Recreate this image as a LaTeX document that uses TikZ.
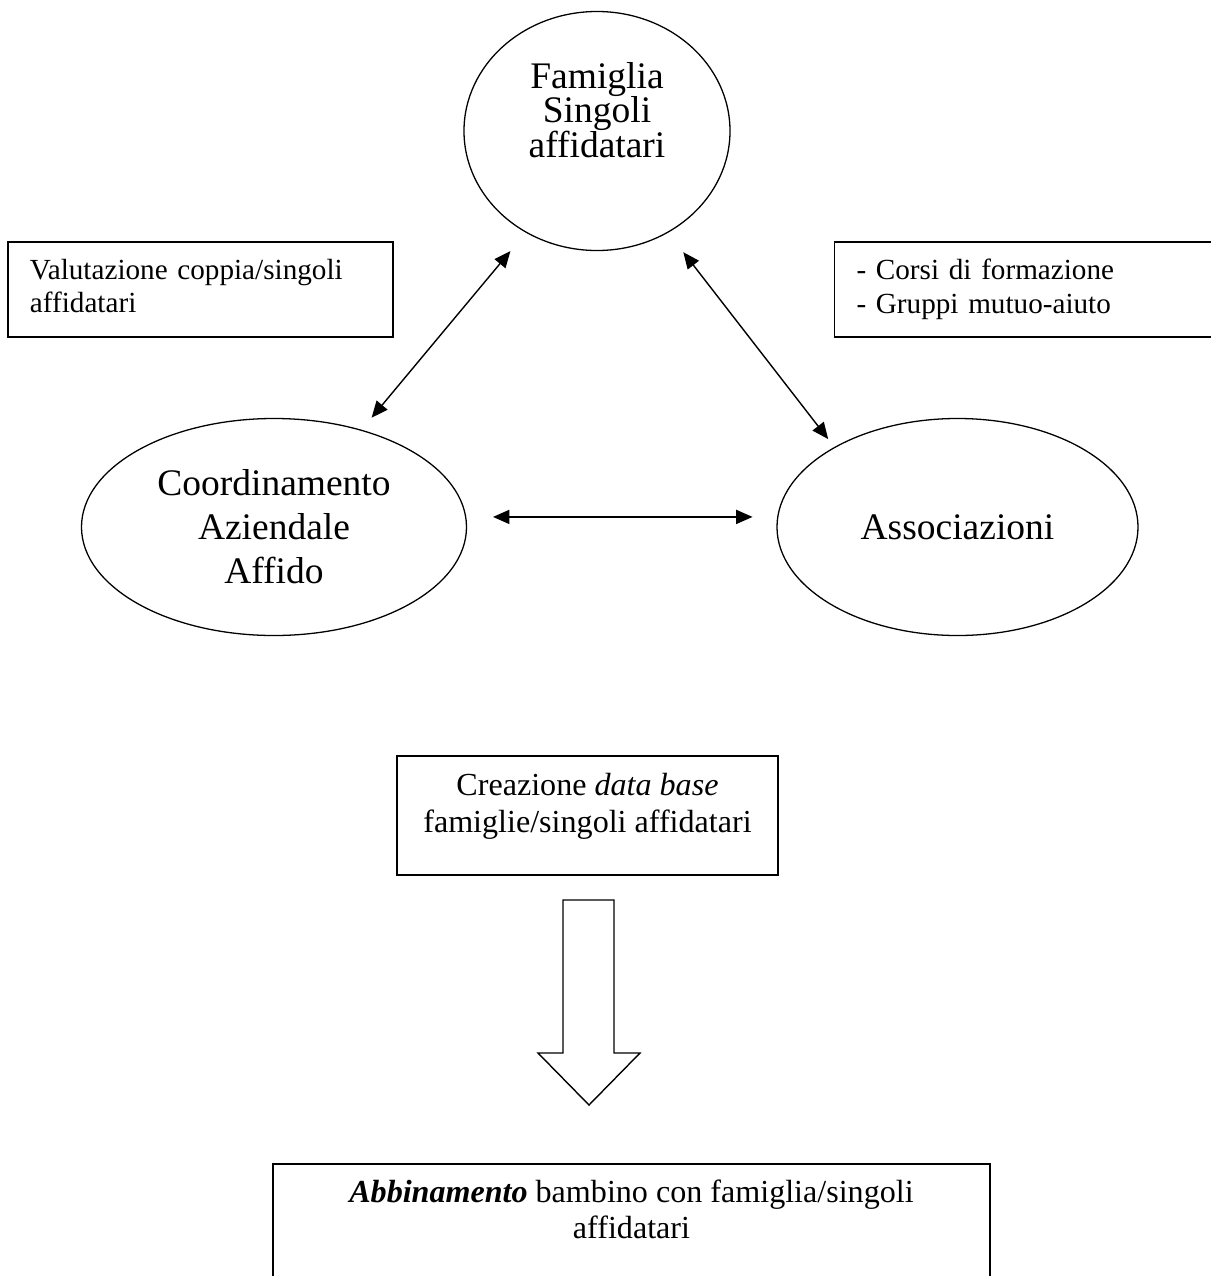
\documentclass[tikz,border=0pt]{standalone}
\usepackage{fontspec}
\setmainfont{Liberation Serif}
\usetikzlibrary{arrows.meta}
\usetikzlibrary{shapes.geometric}
\usetikzlibrary{positioning}
\newcommand{\lowstrut}[1]{\rule[-#1]{0pt}{#1}}

\begin{document}
\begin{tikzpicture}[x=0.015cm,y=-0.015cm,>={Triangle[length=7pt,width=6pt]},
            ell node/.style={ellipse,draw,line width=0.55pt,inner sep=0pt,align=center,font=\fontsize{16}{18.8}\selectfont},
            box node/.style={rectangle,draw,line width=0.7pt,inner sep=0pt},
            note node/.style={box node,minimum width=5.775cm,minimum height=1.425cm,inner xsep=0.33cm,text width=5.115cm,align=left,font=\fontsize{12.45}{14.4}\selectfont}
            ]
            \useasboundingbox (0,0) rectangle (1210,1276);

            \node[ell node,minimum width=3.99cm,minimum height=3.585cm,font=\fontsize{16}{14.9}\selectfont](fam) at (597,131){Famiglia\\Singoli\\affidatari\lowstrut{18pt}};
            \node[ell node,minimum width=5.775cm,minimum height=3.255cm](coord) at (274,527){Coordinamento\\Aziendale\\Affido};
            \node[ell node,minimum width=5.415cm,minimum height=3.255cm](assoc) at (957.5,527){Associazioni};

            \node[note node](valnote) at (200.5,289.5){Valutazione coppia/singoli\\affidatari\lowstrut{3pt}};
            \node[note node](corsinote) at (1027,289.5){- Corsi di formazione\\- Gruppi mutuo-aiuto};

            \node[box node,minimum width=5.715cm,minimum height=1.785cm,align=center,font=\fontsize{13.7}{15.8}\selectfont](dbase) at (587.5,815.5){Creazione \textit{data base}\\famiglie/singoli affidatari\lowstrut{11pt}};
            \node[box node,anchor=north,minimum width=10.755cm,inner ysep=0.24cm,align=center,font=\fontsize{13.7}{15.4}\selectfont](abbin) at (631.5,1163){\textbf{\textit{Abbinamento}} bambino con famiglia/singoli\\affidatari\lowstrut{40pt}};

            % freccia grande
            \draw[line width=0.6pt] (563,900) -- (614,900) -- (614,1053) -- (640,1053) -- (589,1105) -- (538,1053) -- (563,1053) -- cycle;

            \path[<->,line width=0.6pt]
            (fam.235.2) edge[shorten <=0.36cm,shorten >=0.235cm] (coord.48.6)
            (fam.305.4) edge[shorten <=0.37cm,shorten >=0.15cm] (assoc.147.6)
            (coord.3.3) edge[shorten <=0.4cm,shorten >=0.375cm] (assoc.176.5 |- coord.3.3);

        \end{tikzpicture}
\end{document}
